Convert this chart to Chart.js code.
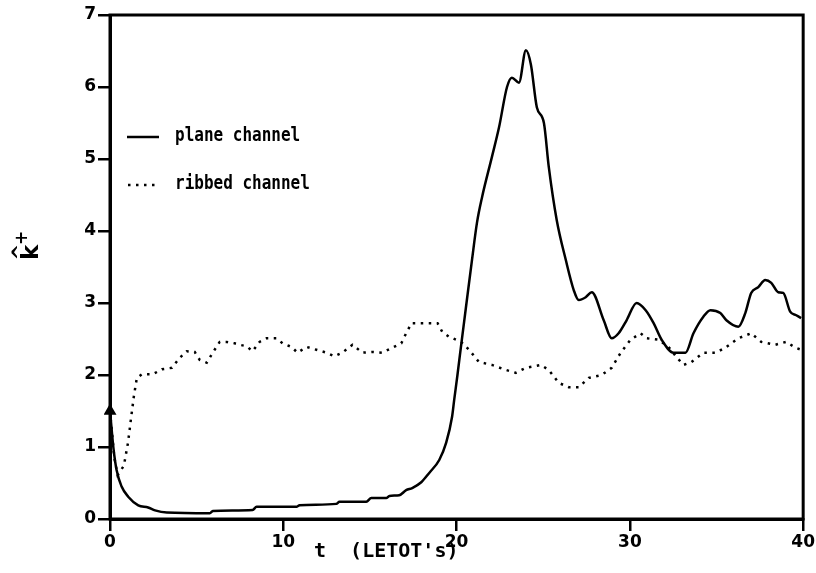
<!DOCTYPE html>
<html>
<head>
<meta charset="utf-8">
<script src="https://cdn.jsdelivr.net/npm/chart.js@4/dist/chart.umd.min.js"></script>
<style>
  html, body { margin: 0; padding: 0; background: #fff; }
  #wrap { width: 816px; height: 573px; }
</style>
</head>
<body>
<div id="wrap"><canvas id="kChart" width="816" height="573"></canvas></div>
<script>
// plane channel: k+ against t
const tPlane = [0, 0.2, 0.38, 0.67, 1.05, 1.63, 2.2, 2.6, 3.28, 5.76, 5.93, 8.23, 8.46, 10.76, 10.94,
  13.06, 13.24, 14.79, 15.08, 15.94, 16.12, 16.69, 17.09, 17.44, 17.96, 18.42, 19.0, 19.4, 19.74,
  19.86, 20.05, 20.24, 20.53, 20.89, 21.18, 21.47, 22.04, 22.45, 22.91, 23.19, 23.6, 24.0, 24.29,
  24.63, 25.04, 25.32, 25.78, 26.3, 26.76, 27.05, 27.45, 27.8, 28.49, 28.95, 29.35, 29.81, 30.39,
  30.91, 31.37, 31.83, 32.52, 33.21, 33.67, 34.24, 34.65, 35.22, 35.57, 36.26, 36.66, 37.0, 37.41,
  37.81, 38.16, 38.56, 38.85, 39.25, 39.6, 39.88];
const kPlane = [1.5, 0.98, 0.68, 0.45, 0.31, 0.19, 0.16, 0.12, 0.09, 0.08, 0.11, 0.125, 0.17, 0.17, 0.19,
  0.21, 0.24, 0.24, 0.29, 0.29, 0.32, 0.33, 0.4, 0.43, 0.51, 0.64, 0.82, 1.06, 1.42,
  1.65, 2.0, 2.37, 2.92, 3.6, 4.12, 4.47, 5.03, 5.44, 6.0, 6.13, 6.06, 6.51, 6.31,
  5.72, 5.5, 4.89, 4.15, 3.6, 3.18, 3.04, 3.08, 3.15, 2.76, 2.51, 2.58, 2.76, 3.0,
  2.9, 2.72, 2.49, 2.31, 2.31, 2.58, 2.81, 2.9, 2.86, 2.76, 2.67, 2.86, 3.14, 3.22,
  3.32, 3.28, 3.15, 3.14, 2.88, 2.83, 2.79];

// ribbed channel
const tRibbed = [0, 0.25, 0.44, 0.8, 1.04, 1.21, 1.38, 1.55, 1.84, 2.47, 2.99, 3.57, 4.03, 4.43, 4.89,
  5.18, 5.58, 5.93, 6.33, 6.73, 7.19, 7.48, 7.88, 8.23, 8.63, 9.04, 9.61, 9.96, 10.47, 10.82, 11.34,
  11.91, 12.49, 12.95, 13.41, 13.99, 14.56, 15.14, 15.71, 16.29, 16.81, 17.09, 17.4, 18.9, 19.17,
  19.57, 20.26, 20.72, 21.29, 22.04, 22.85, 23.42, 24.0, 24.86, 25.32, 25.9, 26.47, 27.05, 27.63,
  28.37, 28.95, 29.47, 30.04, 30.62, 30.96, 31.65, 32.23, 32.69, 33.09, 33.55, 34.24, 34.99, 35.57,
  36.26, 37.0, 37.58, 38.39, 39.02, 39.54, 39.88];
const kRibbed = [1.5, 0.85, 0.61, 0.74, 1.06, 1.39, 1.71, 1.96, 2.01, 2.01, 2.08, 2.1, 2.24, 2.33, 2.32,
  2.21, 2.17, 2.31, 2.46, 2.46, 2.44, 2.42, 2.4, 2.33, 2.46, 2.51, 2.51, 2.44, 2.39, 2.31, 2.39,
  2.35, 2.31, 2.26, 2.31, 2.42, 2.31, 2.32, 2.31, 2.38, 2.44, 2.58, 2.72, 2.72, 2.6,
  2.53, 2.46, 2.35, 2.18, 2.14, 2.07, 2.03, 2.1, 2.14, 2.07, 1.89, 1.83, 1.83, 1.96,
  2.0, 2.1, 2.31, 2.49, 2.58, 2.51, 2.49, 2.39, 2.25, 2.14, 2.18, 2.31, 2.31, 2.39,
  2.51, 2.58, 2.46, 2.42, 2.46, 2.38, 2.35];

const xTicks = [0, 10, 20, 30, 40];
const yTicks = [0, 1, 2, 3, 4, 5, 6, 7];
const seriesNames = ['plane channel', 'ribbed channel'];

const tickFont = { family: '"DejaVu Sans"', size: 17, weight: 'bold' };
const dotDash = [2.5, 5.5];

function pairs(xs, ys) {
  return xs.map((x, i) => ({ x: x, y: ys[i] }));
}

// narrow bold text, squeezed horizontally
function squeezed(ctx, text, x, y, sx) {
  ctx.save();
  ctx.translate(x, y);
  ctx.scale(sx, 1);
  ctx.fillText(text, 0, 0);
  ctx.restore();
}

// frame, legend and axis titles drawn straight on the canvas
const framePlugin = {
  id: 'frame',
  afterDraw(chart) {
    const ctx = chart.ctx;
    const a = chart.chartArea;
    ctx.save();
    ctx.strokeStyle = '#000';
    ctx.lineWidth = 3;
    ctx.strokeRect(a.left, a.top, a.right - a.left, a.bottom - a.top);

    // legend
    ctx.lineWidth = 2.5;
    ctx.beginPath();
    ctx.moveTo(127, 137);
    ctx.lineTo(159, 137);
    ctx.stroke();
    ctx.setLineDash(dotDash);
    ctx.beginPath();
    ctx.moveTo(128, 185);
    ctx.lineTo(159, 185);
    ctx.stroke();
    ctx.setLineDash([]);

    ctx.fillStyle = '#000';
    ctx.textBaseline = 'alphabetic';
    ctx.font = 'bold 20px "DejaVu Sans Mono"';
    squeezed(ctx, seriesNames[0], 175, 141, 0.8);
    squeezed(ctx, seriesNames[1], 175, 189, 0.8);

    // x axis title
    ctx.font = 'bold 20px "DejaVu Sans Mono"';
    ctx.fillText('t  (LETOT\'s)', 314, 557);

    // y axis title k-hat-plus, turned to read upwards
    ctx.save();
    ctx.translate(38, 260);
    ctx.rotate(-Math.PI / 2);
    ctx.font = 'bold 23px "DejaVu Sans"';
    ctx.fillText('k', 0, 0);
    ctx.font = 'bold 20px "DejaVu Sans"';
    ctx.textAlign = 'center';
    ctx.fillText('^', 8, -12);
    ctx.font = 'bold 17px "DejaVu Sans"';
    ctx.fillText('+', 22, -11);
    ctx.restore();
    ctx.restore();
  }
};

const ctx = document.getElementById('kChart').getContext('2d');
new Chart(ctx, {
  type: 'line',
  data: {
    datasets: [{
      label: seriesNames[0],
      data: pairs(tPlane, kPlane),
      borderColor: '#000',
      backgroundColor: '#000',
      borderWidth: 2.5,
      cubicInterpolationMode: 'monotone',
      pointStyle: 'triangle',
      pointRadius: c => c.dataIndex === 0 ? 5 : 0,
      pointBackgroundColor: '#000',
      clip: 6
    }, {
      label: seriesNames[1],
      data: pairs(tRibbed, kRibbed),
      borderColor: '#000',
      borderWidth: 2.5,
      borderDash: dotDash,
      tension: 0,
      pointRadius: 0
    }]
  },
  options: {
    responsive: false,
    animation: false,
    layout: { padding: { top: 15, right: 9, left: 0, bottom: 0 } },
    scales: {
      x: {
        type: 'linear',
        min: 0,
        max: 40,
        afterBuildTicks: s => { s.ticks = xTicks.map(v => ({ value: v })); },
        afterFit: s => { s.height = 54; },
        ticks: { color: '#000', font: tickFont, padding: 1, maxRotation: 0 },
        grid: { drawOnChartArea: false, drawTicks: true, tickLength: 12, color: '#000', lineWidth: 2.5 },
        border: { display: true, color: '#000', width: 3 }
      },
      y: {
        min: 0,
        max: 7,
        afterBuildTicks: s => { s.ticks = yTicks.map(v => ({ value: v })); },
        afterFit: s => { s.width = 110; },
        ticks: { color: '#000', font: tickFont, padding: 2 },
        grid: { drawOnChartArea: false, drawTicks: true, tickLength: 12, color: '#000', lineWidth: 2.5 },
        border: { display: true, color: '#000', width: 3 }
      }
    },
    plugins: {
      legend: { display: false },
      tooltip: { enabled: false }
    }
  },
  plugins: [framePlugin]
});
</script>
</body>
</html>
